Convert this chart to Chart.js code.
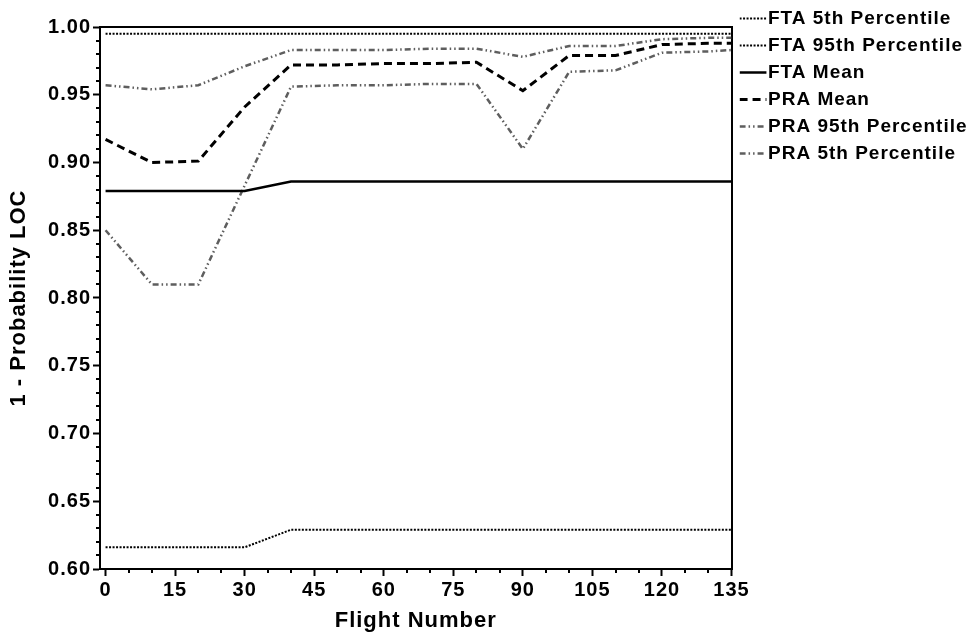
<!DOCTYPE html>
<html><head><meta charset="utf-8">
<script src="https://cdn.jsdelivr.net/npm/chart.js@4"></script>
<style>html,body{margin:0;padding:0;background:#fff;} canvas{display:block;}</style>
</head><body>
<canvas id="c" width="977" height="636"></canvas>
<script>
const flights = [0, 10, 20, 30, 40, 50, 60, 70, 80, 90, 100, 110, 120, 130, 135];
const fta5th  = [0.616, 0.616, 0.616, 0.616, 0.629, 0.629, 0.629, 0.629, 0.629, 0.629, 0.629, 0.629, 0.629, 0.629, 0.629];
const fta95th = [0.995, 0.995, 0.995, 0.995, 0.995, 0.995, 0.995, 0.995, 0.995, 0.995, 0.995, 0.995, 0.995, 0.995, 0.995];
const ftaMean = [0.879, 0.879, 0.879, 0.879, 0.886, 0.886, 0.886, 0.886, 0.886, 0.886, 0.886, 0.886, 0.886, 0.886, 0.886];
const praMean = [0.917, 0.900, 0.901, 0.941, 0.972, 0.972, 0.973, 0.973, 0.974, 0.953, 0.979, 0.979, 0.987, 0.988, 0.988];
const pra95th = [0.957, 0.954, 0.957, 0.971, 0.983, 0.983, 0.983, 0.984, 0.984, 0.978, 0.986, 0.986, 0.991, 0.992, 0.992];
const pra5th  = [0.850, 0.810, 0.810, 0.883, 0.956, 0.957, 0.957, 0.958, 0.958, 0.910, 0.967, 0.968, 0.981, 0.982, 0.983];
const seriesLabels = ['FTA 5th Percentile', 'FTA 95th Percentile', 'FTA Mean', 'PRA Mean', 'PRA 95th Percentile', 'PRA 5th Percentile'];
const xTickValues = [0, 15, 30, 45, 60, 75, 90, 105, 120, 135];
const yTickLabels = ['0.60', '0.65', '0.70', '0.75', '0.80', '0.85', '0.90', '0.95', '1.00'];
const xTitle = 'Flight Number';
const yTitle = '1 - Probability LOC';

const FONT = "'Liberation Sans', Arial, sans-serif";
const pts = arr => flights.map((f, i) => ({x: f, y: arr[i]}));

const spacing = {
  id: 'spacing',
  beforeUpdate(chart) { chart.ctx.letterSpacing = '1px'; },
  beforeDraw(chart) { chart.ctx.letterSpacing = '1px'; }
};

const minorTicks = {
  id: 'minorTicks',
  afterDraw(chart) {
    const {ctx, scales: {x, y}, chartArea} = chart;
    ctx.save();
    ctx.strokeStyle = '#000';
    ctx.lineWidth = 2;
    ctx.beginPath();
    for (let i = 0; i <= 40; i++) {
      if (i % 5 === 0) continue;
      const py = Math.round(y.getPixelForValue(0.6 + i * 0.01));
      ctx.moveTo(chartArea.left - 4, py);
      ctx.lineTo(chartArea.left, py);
    }
    for (let f = 0; f <= 135; f += 5) {
      if (f % 15 === 0) continue;
      const px = Math.round(x.getPixelForValue(f));
      ctx.moveTo(px, chartArea.bottom);
      ctx.lineTo(px, chartArea.bottom + 4);
    }
    ctx.stroke();
    ctx.restore();
  }
};

const dotted = [2, 1.5];
const dashDotDot = [6, 3, 1.5, 3, 1.5, 3];
const grey = '#5e5e5e';

new Chart(document.getElementById('c'), {
  type: 'line',
  data: {
    datasets: [
      {label: seriesLabels[0], data: pts(fta5th), borderColor: '#000', borderWidth: 2, borderDash: dotted},
      {label: seriesLabels[1], data: pts(fta95th), borderColor: '#000', borderWidth: 2, borderDash: dotted},
      {label: seriesLabels[2], data: pts(ftaMean), borderColor: '#000', borderWidth: 2.5},
      {label: seriesLabels[3], data: pts(praMean), borderColor: '#000', borderWidth: 3, borderDash: [8, 5]},
      {label: seriesLabels[4], data: pts(pra95th), borderColor: grey, borderWidth: 2.5, borderDash: dashDotDot},
      {label: seriesLabels[5], data: pts(pra5th), borderColor: grey, borderWidth: 2.5, borderDash: dashDotDot}
    ]
  },
  options: {
    responsive: false,
    animation: false,
    devicePixelRatio: 1,
    layout: {padding: {top: 1, right: 0, bottom: 0, left: 0}},
    elements: {point: {radius: 0}, line: {tension: 0, fill: false}},
    plugins: {
      tooltip: {enabled: false},
      legend: {
        position: 'right', align: 'start', maxWidth: 237.5,
        labels: {
          usePointStyle: true, pointStyle: 'line', boxWidth: 11, boxHeight: 19, padding: 8,
          color: '#000', font: {family: FONT, size: 19, weight: 'bold'},
          generateLabels: chart => Chart.defaults.plugins.legend.labels.generateLabels(chart).map((item, i) => {
            const ds = chart.data.datasets[i];
            item.lineDash = ds.borderDash || [];
            item.lineWidth = ds.borderWidth;
            item.strokeStyle = ds.borderColor;
            item.fillStyle = ds.borderColor;
            return item;
          })
        }
      }
    },
    scales: {
      x: {
        type: 'linear', position: 'bottom', min: -1.2, max: 135,
        afterBuildTicks: s => { s.ticks = xTickValues.map(v => ({value: v})); },
        afterFit: s => { s.height = 67; },
        grid: {drawOnChartArea: false, drawTicks: true, tickLength: 7, tickWidth: 2, tickColor: '#000'},
        border: {display: true, color: '#000', width: 2},
        ticks: {color: '#000', padding: 2, maxRotation: 0, autoSkip: false,
                font: {family: FONT, size: 20, weight: 'bold'}},
        title: {display: true, text: xTitle, color: '#000', padding: {top: 0, bottom: 2},
                font: {family: FONT, size: 22, weight: 'bold'}}
      },
      x2: {
        type: 'linear', position: 'top', min: -1.2, max: 135,
        afterFit: s => { s.height = 26; },
        ticks: {display: false},
        grid: {drawOnChartArea: false, drawTicks: false},
        border: {display: true, color: '#000', width: 2}
      },
      y: {
        type: 'linear', position: 'left', min: 0.6, max: 1.0,
        afterBuildTicks: s => { s.ticks = yTickLabels.map(t => ({value: parseFloat(t)})); },
        afterFit: s => { s.width = 100; },
        grid: {drawOnChartArea: false, drawTicks: true, tickLength: 7, tickWidth: 2, tickColor: '#000'},
        border: {display: true, color: '#000', width: 2},
        ticks: {color: '#000', padding: 2, autoSkip: false,
                callback: (v, i) => yTickLabels[i],
                font: {family: FONT, size: 20, weight: 'bold'}},
        title: {display: true, text: yTitle, color: '#000', padding: {top: 6, bottom: 0},
                font: {family: FONT, size: 22, weight: 'bold'}}
      },
      y2: {
        type: 'linear', position: 'right', min: 0.6, max: 1.0,
        afterFit: s => { s.width = 8; },
        ticks: {display: false},
        grid: {drawOnChartArea: false, drawTicks: false},
        border: {display: true, color: '#000', width: 2}
      }
    }
  },
  plugins: [spacing, minorTicks]
});
</script>
</body></html>
